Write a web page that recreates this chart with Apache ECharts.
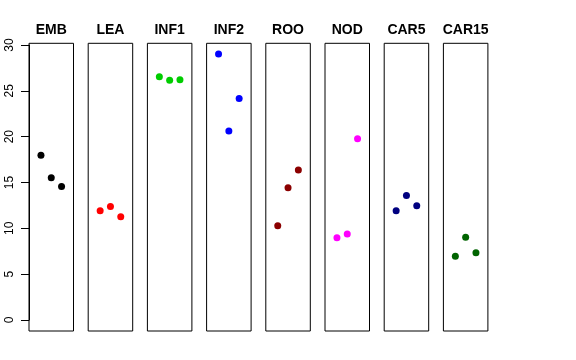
<!DOCTYPE html>
<html><head><meta charset="utf-8">
<script src="https://cdn.jsdelivr.net/npm/echarts@6/dist/echarts.min.js"></script>
<style>html,body{margin:0;padding:0;background:#fff}#c{width:576px;height:360px}</style>
</head><body><div id="c"></div>
<script>
const categories = ["EMB","LEA","INF1","INF2","ROO","NOD","CAR5","CAR15"];
const colors = ["#000000","#FF0000","#00CD00","#0000FF","#8B0000","#FF00FF","#000080","#006400"];
const EMB = [17.97, 15.52, 14.58];
const LEA = [11.93, 12.40, 11.27];
const INF1 = [26.54, 26.18, 26.22];
const INF2 = [29.02, 20.62, 24.18];
const ROO = [10.29, 14.44, 16.36];
const NOD = [8.98, 9.38, 19.78];
const CAR5 = [11.93, 13.60, 12.47];
const CAR15 = [6.95, 9.02, 7.35];
const yTicks = [0, 5, 10, 15, 20, 25, 30];
const seriesValues = [EMB, LEA, INF1, INF2, ROO, NOD, CAR5, CAR15];

const chart = echarts.init(document.getElementById('c'), null, {renderer:'canvas'});
const grids = [], xAxes = [], yAxes = [], series = [], texts = [];
const left0 = 29, step = 59.2, pw = 44.5, ptop = 43.3, ph = 287.7;
categories.forEach((cat, i) => {
  const l = left0 + i * step;
  grids.push({left: l, top: ptop, width: pw, height: ph, show: true, borderColor: '#000', borderWidth: 1, backgroundColor: 'transparent', containLabel: false});
  xAxes.push({type: 'value', gridIndex: i, min: -0.16, max: 4.16, show: false});
  yAxes.push({type: 'value', gridIndex: i, min: -1.2, max: 30.2, show: false});
  series.push({type: 'scatter', xAxisIndex: i, yAxisIndex: i, symbolSize: 7,
    itemStyle: {color: colors[i], opacity: 1},
    data: seriesValues[i].map((v, k) => [k + 1, v]), silent: true});
  texts.push({type: 'text', x: l + pw / 2, y: 30.5, silent: true,
    style: {text: cat, textAlign: 'center', textVerticalAlign: 'middle',
      font: 'bold 14px "Liberation Sans", Arial, sans-serif', fill: '#000'}});
});
// y axis grid
grids.push({left: left0, top: 320 - 275, width: 1, height: 275, show: false});
xAxes.push({type: 'value', gridIndex: 8, show: false});
yAxes.push({type: 'value', gridIndex: 8, min: 0, max: 30, interval: 5, position: 'left',
  axisLine: {show: true, lineStyle: {color: '#000', width: 1}},
  axisTick: {show: true, length: 8, lineStyle: {color: '#000'}},
  splitLine: {show: false},
  axisLabel: {rotate: 90, margin: 13, color: '#000', fontSize: 12, fontFamily: 'Liberation Sans, Arial, sans-serif',
    formatter: v => yTicks.includes(v) ? String(v) : ''}
});
chart.setOption({
  animation: false,
  graphic: texts,
  grid: grids, xAxis: xAxes, yAxis: yAxes, series: series
});
</script></body></html>
